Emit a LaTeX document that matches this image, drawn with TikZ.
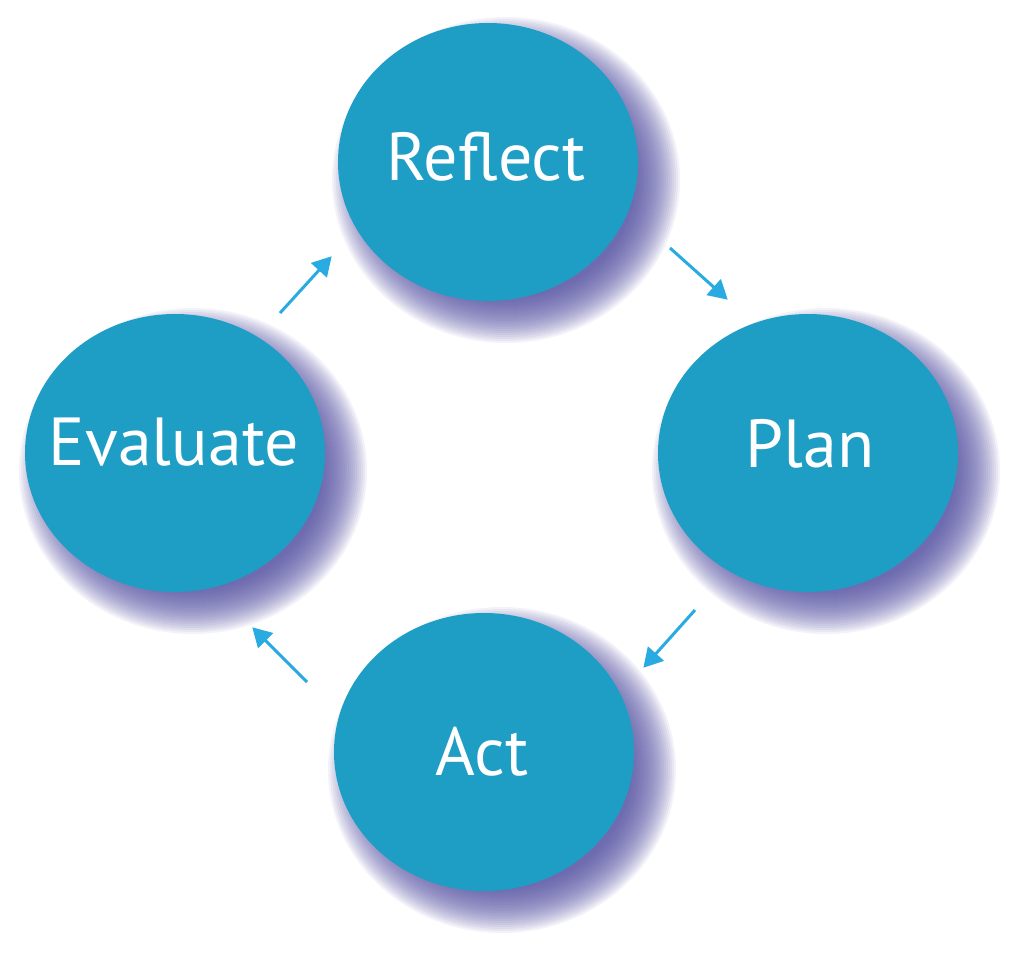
\documentclass[tikz,border=0pt]{standalone}
\usepackage{fontspec}
\setmainfont{PT Sans}
\usetikzlibrary{arrows.meta,shapes.geometric}
\definecolor{disc}{RGB}{30,158,196}
\definecolor{arr}{RGB}{41,171,226}
\definecolor{shad}{RGB}{78,74,158}
\begin{document}
\begin{tikzpicture}[x=1pt,y=-1pt,
  disk/.style={ellipse,fill=disc,draw=none,inner sep=0pt,minimum width=300pt,minimum height=278pt},
  lbl/.style={text=white,font=\fontsize{68}{72}\selectfont,inner sep=0pt,anchor=base},
  cyc/.style={draw=arr,line width=3pt,-{Triangle[length=19pt,width=21pt]},shorten >=-1pt}]
\useasboundingbox (0,0) rectangle (1024,955);
% soft shadows
\foreach \cx/\cy in {488/162, 808/453, 175/453, 484/752}{
  \foreach \d in {0,2,...,44}{
    \fill[shad,opacity=0.07] (\cx+18,\cy+18) ellipse [x radius=130+\d, y radius=119+\d];
  }
}
\node[disk] (R) at (488,162) {};
\node[disk] (P) at (808,453) {};
\node[disk] (E) at (175,453) {};
\node[disk] (A) at (484,752) {};
\node[lbl] (Rt) at (486,180) {Reflect};
\node[lbl] (Pt) at (810,467) {Plan};
\node[lbl] (Et) at (174,465) {Evaluate};
\node[lbl] (At) at (482,775) {Act};
\coordinate (rp1) at (670,248); \coordinate (rp2) at (727,299);
\coordinate (pa1) at (695,610); \coordinate (pa2) at (644,667);
\coordinate (ae1) at (307,682); \coordinate (ae2) at (253,628);
\coordinate (er1) at (280,313); \coordinate (er2) at (331,257);
\draw[cyc] (rp1) -- (rp2);
\draw[cyc] (pa1) -- (pa2);
\draw[cyc] (ae1) -- (ae2);
\draw[cyc] (er1) -- (er2);
\end{tikzpicture}
\end{document}
